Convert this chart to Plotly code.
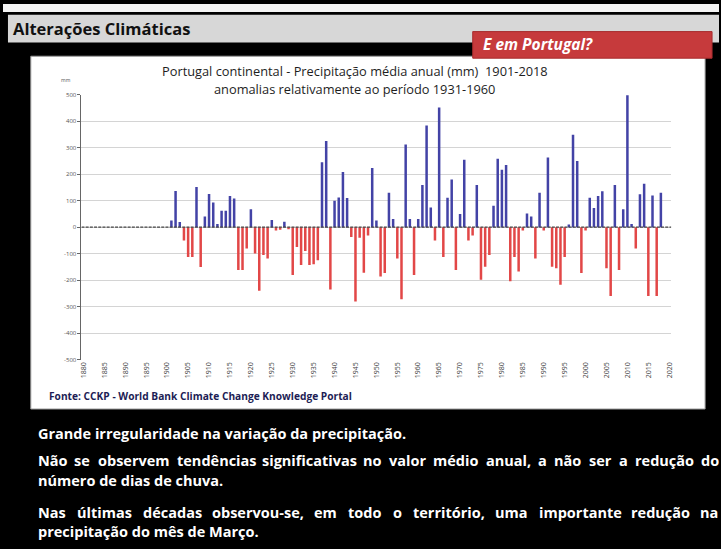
import unicodedata
import plotly.graph_objects as go

W, H = 721, 549

# Annual precipitation anomaly (mm) for mainland Portugal, relative to 1931-1960
years = list(range(1901, 2019))
anomalies = [
    25, 137, 20, -50, -112, -112, 152, -150, 40, 125,
    93, 12, 62, 62, 118, 108, -161, -161, -80, 68,
    -99, -240, -105, -118, 27, -12, -10, 21, -8, -180,
    -75, -143, -90, -143, -140, -125, 245, 325, -235, 100,
    112, 208, 110, -37, -280, -40, -172, -31, 223, 25,
    -186, -173, 130, 31, -118, -272, 312, 31, -180, 31,
    159, 384, 74, -50, 452, -112, 111, 180, -161, 50,
    254, -50, -31, 159, -198, -149, -105, 81, 258, 217,
    235, -204, -112, -167, -12, 52, 40, -118, 130, -12,
    263, -149, -155, -217, -112, 10, 349, 250, -173, -12,
    111, 72, 118, 136, -155, -260, 159, -161, 68, 498,
    12, -80, 124, 164, -260, 120, -260, 130,
]
tick_years = list(range(1880, 2021, 5))
y_ticks = list(range(-500, 501, 100))

header_text = "Alterações Climáticas"
tab_text = "E em Portugal?"
title_lines = [
    "Portugal continental - Precipitação média anual (mm)  1901-2018",
    "anomalias relativamente ao período 1931-1960",
]
source_text = "Fonte: CCKP - World Bank Climate Change Knowledge Portal"
body_lines = [
    ("Grande irregularidade na variação da precipitação.", False),
    ("Não se observem tendências significativas no valor médio anual, a não ser a redução do", True),
    ("número de dias de chuva.", False),
    ("Nas últimas décadas observou-se, em todo o território, uma importante redução na", True),
    ("precipitação do mês de Março.", False),
]

BLUE = "#4343A6"
RED = "#E24747"
FONT = "Open Sans"


def px(x):
    return x / W


def py(y):
    return 1 - y / H


# approximate advance widths (em) of Open Sans Bold, used to spread justified lines
OSB = {
    " ": 0.26, "a": 0.58, "b": 0.61, "c": 0.50, "d": 0.61, "e": 0.59, "f": 0.38,
    "g": 0.55, "h": 0.64, "i": 0.31, "j": 0.31, "k": 0.62, "l": 0.31, "m": 0.97,
    "n": 0.64, "o": 0.60, "p": 0.61, "q": 0.61, "r": 0.44, "s": 0.50, "t": 0.42,
    "u": 0.64, "v": 0.56, "w": 0.80, "x": 0.58, "y": 0.56, "z": 0.49, ",": 0.27,
    ".": 0.29, "-": 0.32, "N": 0.80, "M": 0.96, "G": 0.71, "P": 0.64, "C": 0.63,
}


def text_width(s, size):
    total = 0.0
    for ch in s:
        base = unicodedata.normalize("NFD", ch)[0]
        total += OSB.get(base, 0.68 if base.isupper() else 0.6)
    return total * size


fig = go.Figure()

fig.add_trace(go.Bar(
    x=years,
    y=anomalies,
    marker=dict(color=[BLUE if v > 0 else RED for v in anomalies], line=dict(width=0)),
    width=0.6,
    hoverinfo="x+y",
))

shapes = [
    # slide decoration
    dict(type="rect", xref="paper", yref="paper", x0=0, x1=1, y0=py(8), y1=1,
         fillcolor="#F4F4F4", line=dict(width=0), layer="below"),
    dict(type="rect", xref="paper", yref="paper", x0=px(5), x1=1, y0=py(39), y1=py(11),
         fillcolor="#D7D7D7", line=dict(width=0), layer="below"),
    dict(type="rect", xref="paper", yref="paper", x0=px(28), x1=px(707), y0=py(411), y1=py(53),
         fillcolor="#FFFFFF", line=dict(color="#9A9A9A", width=1), layer="below"),
    dict(type="rect", xref="paper", yref="paper", x0=px(473), x1=px(714), y0=py(55), y1=py(28),
         fillcolor="#C63A3C", line=dict(color="#A82C2E", width=1), layer="below"),
    # horizontal category axis crossing at zero
    dict(type="line", xref="x", yref="y", x0=1879.5, x1=2020.5, y0=0, y1=0,
         line=dict(color="#444444", width=1.2, dash="3px,1.2px"), layer="above"),
]

annotations = [
    dict(text="<b>" + header_text + "</b>", x=px(8), y=py(25), xref="paper", yref="paper",
         xanchor="left", yanchor="middle", showarrow=False,
         font=dict(family=FONT, size=16.5, color="#111111")),
    dict(text="<b><i>" + tab_text + "</i></b>", x=px(481), y=py(41), xref="paper", yref="paper",
         xanchor="left", yanchor="middle", showarrow=False,
         font=dict(family=FONT, size=15.5, color="#FFFFFF")),
    dict(text="mm", x=px(63), y=py(77), xref="paper", yref="paper",
         xanchor="center", yanchor="middle", showarrow=False,
         font=dict(family=FONT, size=5, color="#555555")),
    dict(text="<b>" + source_text + "</b>", x=px(44), y=py(398), xref="paper", yref="paper",
         xanchor="left", yanchor="middle", showarrow=False,
         font=dict(family=FONT, size=10.2, color="#1D1D55")),
]

for line, ypix in zip(title_lines, [68, 86]):
    annotations.append(dict(text=line, x=px(354), y=py(ypix), xref="paper", yref="paper",
                            xanchor="center", yanchor="middle", showarrow=False,
                            font=dict(family=FONT, size=12.8, color="#1E1E1E")))

# body paragraphs, justified lines laid out word by word
BODY_SIZE = 14.5
left, right = 33, 718
for (line, justify), ypix in zip(body_lines, [436, 463, 484, 516, 535]):
    if not justify:
        annotations.append(dict(text="<b>" + line + "</b>", x=px(left), y=py(ypix),
                                xref="paper", yref="paper", xanchor="left", yanchor="middle",
                                showarrow=False,
                                font=dict(family=FONT, size=BODY_SIZE, color="#FFFFFF")))
        continue
    words = line.split(" ")
    widths = [text_width(w, BODY_SIZE) for w in words]
    gap = (right - left - sum(widths)) / (len(words) - 1)
    xpos = left
    for w, wd in zip(words, widths):
        annotations.append(dict(text="<b>" + w + "</b>", x=px(xpos), y=py(ypix),
                                xref="paper", yref="paper", xanchor="left", yanchor="middle",
                                showarrow=False,
                                font=dict(family=FONT, size=BODY_SIZE, color="#FFFFFF")))
        xpos += wd + gap

fig.update_layout(
    width=W, height=H,
    margin=dict(l=0, r=0, t=0, b=0),
    paper_bgcolor="#000000",
    plot_bgcolor="rgba(0,0,0,0)",
    showlegend=False,
    shapes=shapes,
    annotations=annotations,
    xaxis=dict(
        domain=[px(79), px(673)],
        range=[1879.5, 2020.5],
        tickvals=tick_years,
        ticktext=[str(y) for y in tick_years],
        tickangle=-90,
        tickfont=dict(family=FONT, size=7, color="#444444"),
        showgrid=False, zeroline=False, showline=False, ticks="",
        fixedrange=True,
    ),
    yaxis=dict(
        domain=[py(361), py(92)],
        range=[-500, 500],
        tickvals=y_ticks,
        ticktext=[str(v) for v in y_ticks],
        tickfont=dict(family=FONT, size=6, color="#555555"),
        showgrid=True, gridcolor="#D4D4D4", gridwidth=1,
        zeroline=False,
        showline=True, linecolor="#666666", linewidth=1,
        ticks="outside", ticklen=3, tickcolor="#666666",
        fixedrange=True,
    ),
)

fig.write_html("out.html")
